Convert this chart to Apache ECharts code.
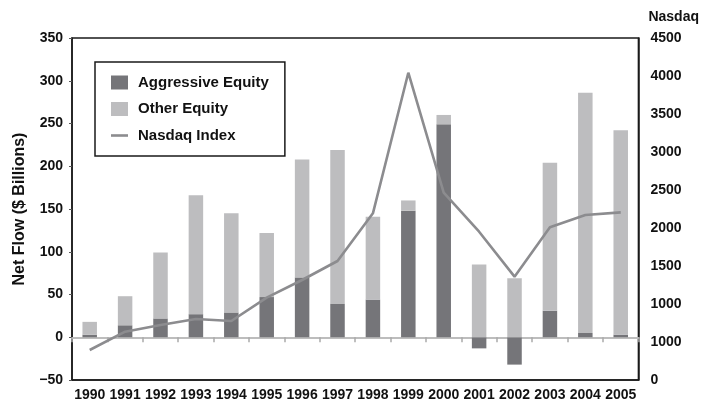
<!DOCTYPE html>
<html>
<head>
<meta charset="utf-8">
<script src="https://cdn.jsdelivr.net/npm/echarts@6/dist/echarts.min.js"></script>
<style>
html,body{margin:0;padding:0;background:#fff;}
#chart{width:702px;height:406px;}
</style>
</head>
<body>
<div id="chart"></div>
<script>
const years = ['1990','1991','1992','1993','1994','1995','1996','1997','1998','1999','2000','2001','2002','2003','2004','2005'];
const aggressiveEquity = [3, 14, 22, 27, 29, 47, 70, 39, 44, 148, 249, -13, -32, 31, 5, 3];
const otherEquity = [15, 34, 77, 139, 116, 75, 138, 180, 97, 12, 11, 85, 69, 173, 281, 239];
const nasdaqIndex = [395, 636, 724, 803, 776, 1083, 1316, 1566, 2193, 4043, 2464, 1951, 1360, 2009, 2171, 2206];
const leftTickLabels = ['\u221250', '0', '50', '100', '150', '200', '250', '300', '350'];
const rightTickLabels = ['0', '1000', '1000', '1500', '2000', '2500', '3000', '3500', '4000', '4500'];

const FONT = '"Liberation Sans", Arial, sans-serif';
const chart = echarts.init(document.getElementById('chart'), null, {renderer: 'canvas'});
chart.setOption({
  animation: false,
  backgroundColor: '#ffffff',
  textStyle: {fontFamily: FONT},
  grid: {left: 72, right: 61, top: 38, bottom: 26, show: true, borderColor: '#1a1a1a', borderWidth: 1.5, backgroundColor: 'transparent'},
  legend: {
    orient: 'vertical', left: 95, top: 62,
    padding: [13, 16, 13, 16],
    itemWidth: 17, itemHeight: 14, itemGap: 11.5,
    symbolKeepAspect: true,
    borderColor: '#1a1a1a', borderWidth: 1.5,
    textStyle: {fontFamily: FONT, fontWeight: 'bold', fontSize: 15, color: '#111', padding: [0, 0, 0, 5]},
    data: [
      {name: 'Aggressive Equity', icon: 'rect'},
      {name: 'Other Equity', icon: 'rect'},
      {name: 'Nasdaq Index', icon: 'path://M0,0L17,0L17,2.6L0,2.6Z'}
    ]
  },
  xAxis: [
    {
      type: 'category', data: years, position: 'bottom',
      axisLine: {onZero: false, lineStyle: {color: '#1a1a1a', width: 1.5}},
      axisTick: {show: false},
      axisLabel: {fontFamily: FONT, fontWeight: 'bold', fontSize: 14, color: '#111', margin: 8, interval: 0}
    },
    {
      type: 'category', data: years, position: 'top',
      axisLine: {onZero: true, onZeroAxisIndex: 0, lineStyle: {color: '#bdbdbd', width: 2}},
      axisTick: {show: true, inside: true, length: 5, lineStyle: {color: '#aaaaaa', width: 1.5}},
      axisLabel: {show: false}
    }
  ],
  yAxis: [
    {
      type: 'value', min: -50, max: 350, interval: 50, position: 'left',
      name: 'Net Flow ($ Billions)', nameLocation: 'middle', nameGap: 44,
      nameTextStyle: {fontFamily: FONT, fontWeight: 'bold', fontSize: 16, color: '#111'},
      axisLine: {show: true, lineStyle: {color: '#1a1a1a', width: 1.5}},
      axisTick: {show: true, length: 3, lineStyle: {color: '#555'}},
      splitLine: {show: false},
      axisLabel: {fontFamily: FONT, fontWeight: 'bold', fontSize: 14, color: '#111', margin: 9,
        formatter: function (v) { return leftTickLabels[Math.round((v + 50) / 50)]; }}
    },
    {
      type: 'value', min: 0, max: 4500, interval: 500, position: 'right',
      name: 'Nasdaq', nameLocation: 'end', nameGap: 14,
      nameTextStyle: {fontFamily: FONT, fontWeight: 'bold', fontSize: 14, color: '#111', align: 'left', padding: [0, 0, 0, 10]},
      axisLine: {show: true, lineStyle: {color: '#1a1a1a', width: 1.5}},
      axisTick: {show: false},
      splitLine: {show: false},
      axisLabel: {fontFamily: FONT, fontWeight: 'bold', fontSize: 14, color: '#111', margin: 12, align: 'left',
        formatter: function (v) { return rightTickLabels[Math.round(v / 500)]; }}
    }
  ],
  series: [
    {
      name: 'Aggressive Equity', type: 'bar', stack: 'flow', data: aggressiveEquity,
      barWidth: 14.5, itemStyle: {color: '#757579'}
    },
    {
      name: 'Other Equity', type: 'bar', stack: 'flow', data: otherEquity,
      barWidth: 14.5, itemStyle: {color: '#bdbdbf'}
    },
    {
      name: 'Nasdaq Index', type: 'line', yAxisIndex: 1, data: nasdaqIndex,
      symbol: 'none', showSymbol: false,
      lineStyle: {color: '#8c8c8f', width: 2.6}, itemStyle: {color: '#8c8c8f'}
    }
  ]
});
</script>
</body>
</html>
